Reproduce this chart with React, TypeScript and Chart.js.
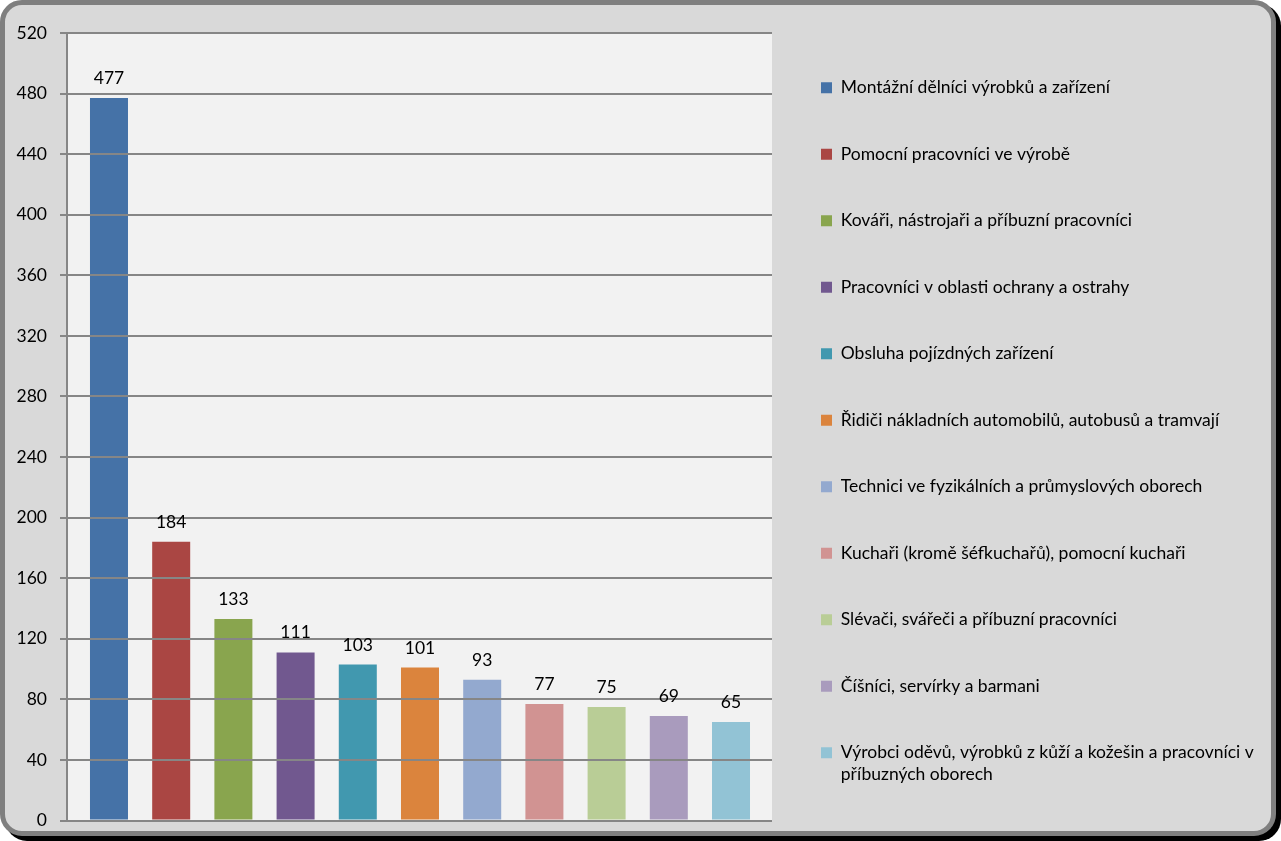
import { useEffect, useRef } from 'react';
import { Chart, registerables } from 'chart.js';

Chart.register(...registerables);

const categories: string[] = [
  'Montážní dělníci výrobků a zařízení',
  'Pomocní pracovníci ve výrobě',
  'Kováři, nástrojaři a příbuzní pracovníci',
  'Pracovníci v oblasti ochrany a ostrahy',
  'Obsluha pojízdných zařízení',
  'Řidiči nákladních automobilů, autobusů a tramvají',
  'Technici ve fyzikálních a průmyslových oborech',
  'Kuchaři (kromě šéfkuchařů), pomocní kuchaři',
  'Slévači, svářeči a příbuzní pracovníci',
  'Číšníci, servírky a barmani',
  'Výrobci oděvů, výrobků z kůží a kožešin a pracovníci v příbuzných oborech',
];

const values: number[] = [477, 184, 133, 111, 103, 101, 93, 77, 75, 69, 65];

const colors: string[] = [
  '#4572A7',
  '#AA4643',
  '#89A54E',
  '#71588F',
  '#4198AF',
  '#DB843D',
  '#93A9CF',
  '#D19392',
  '#B9CD96',
  '#A99BBD',
  '#92C3D5',
];

const yTicks: number[] = [0, 40, 80, 120, 160, 200, 240, 280, 320, 360, 400, 440, 480, 520];

const FONT = 'Lato, "Open Sans", "DejaVu Sans", sans-serif';
const PLOT_RIGHT = 772;

function wrapLabel(text: string, maxChars: number): string | string[] {
  const words = text.split(' ');
  const lines: string[] = [];
  let cur = '';
  for (const w of words) {
    const next = cur ? cur + ' ' + w : w;
    if (next.length > maxChars && cur) {
      lines.push(cur);
      cur = w;
    } else {
      cur = next;
    }
  }
  lines.push(cur);
  return lines.length > 1 ? lines : lines[0];
}

const plotBackground = {
  id: 'plotBackground',
  beforeDraw(chart: any) {
    const { ctx, chartArea } = chart;
    ctx.save();
    ctx.fillStyle = '#F2F2F2';
    ctx.fillRect(chartArea.left, chartArea.top, chartArea.right - chartArea.left, chartArea.bottom - chartArea.top);
    ctx.restore();
  },
};

const valueLabels = {
  id: 'valueLabels',
  afterDraw(chart: any) {
    const { ctx } = chart;
    const meta = chart.getDatasetMeta(0);
    ctx.save();
    ctx.fillStyle = '#000';
    ctx.font = `17.5px ${FONT}`;
    ctx.textAlign = 'center';
    ctx.textBaseline = 'alphabetic';
    meta.data.forEach((bar: any, i: number) => {
      ctx.fillText(String(values[i]), bar.x, bar.y - 14);
    });
    ctx.restore();
  },
};

export default function App() {
  const canvasRef = useRef<HTMLCanvasElement | null>(null);

  useEffect(() => {
    const canvas = canvasRef.current;
    if (!canvas) return;
    const chart = new Chart(canvas, {
      type: 'bar',
      data: {
        datasets: [
          {
            data: values.map((v, i) => ({ x: i, y: v })),
            backgroundColor: colors,
            borderWidth: 0,
            barPercentage: 0.611,
            categoryPercentage: 1,
          },
        ],
      },
      options: {
        responsive: false,
        animation: false,
        layout: { padding: { top: 30, right: 0, bottom: 0, left: 0 } },
        scales: {
          x: {
            type: 'linear',
            min: -0.675,
            max: 10.659,
            offset: false,
            ticks: { display: false },
            grid: { display: false },
            border: { display: false },
            afterFit: (scale: any) => {
              scale.height = 23;
            },
          },
          y: {
            type: 'linear',
            min: 0,
            max: 520,
            afterBuildTicks: (scale: any) => {
              scale.ticks = yTicks.map((v) => ({ value: v }));
            },
            afterFit: (scale: any) => {
              scale.width = 67;
            },
            ticks: {
              color: '#000',
              padding: 13,
              font: { family: FONT, size: 17.5 },
            },
            grid: {
              color: '#868686',
              lineWidth: 2,
              tickLength: 7,
              drawTicks: true,
              z: 1,
            },
            border: { display: true, color: '#868686', width: 2 },
          },
        },
        plugins: {
          title: {
            display: true,
            text: '',
            padding: { top: 1, bottom: 1 },
            font: { size: 1, lineHeight: 1 },
          },
          tooltip: { enabled: false },
          legend: {
            display: true,
            position: 'right',
            align: 'start',
            maxWidth: 640,
            labels: {
              boxWidth: 11,
              boxHeight: 11,
              padding: 49,
              color: '#000',
              font: { family: FONT, size: 17.5, lineHeight: '22px' },
              generateLabels: () =>
                categories.map((c, i) => ({
                  text: wrapLabel(c, 55),
                  fillStyle: colors[i],
                  strokeStyle: colors[i],
                  lineWidth: 0,
                  hidden: false,
                  index: i,
                  datasetIndex: 0,
                  fontColor: '#000',
                })) as any,
            },
          },
        },
      } as any,
      plugins: [plotBackground, valueLabels],
    });
    const delta = chart.chartArea.right - PLOT_RIGHT;
    if (Math.abs(delta) > 0.25) {
      (chart.options as any).layout.padding = { top: 30, right: Math.max(0, delta), bottom: 0, left: 0 };
      chart.update();
    }
    return () => chart.destroy();
  }, []);

  return (
    <div style={{ position: 'absolute', left: 0, top: 0, width: 1281, height: 841, background: '#fff', overflow: 'hidden' }}>
      <div
        style={{
          position: 'absolute',
          left: 5,
          top: 4,
          width: 1276,
          height: 837,
          background: '#000',
          borderRadius: 22,
        }}
      />
      <div
        style={{
          position: 'absolute',
          left: 0,
          top: 0,
          width: 1276,
          height: 836,
          boxSizing: 'border-box',
          border: '5px solid #7F7F7F',
          borderRadius: 22,
          background: '#D9D9D9',
        }}
      />
      <canvas
        ref={canvasRef}
        width={1281}
        height={844}
        style={{ position: 'absolute', left: 0, top: 0, width: 1281, height: 844 }}
      />
    </div>
  );
}
